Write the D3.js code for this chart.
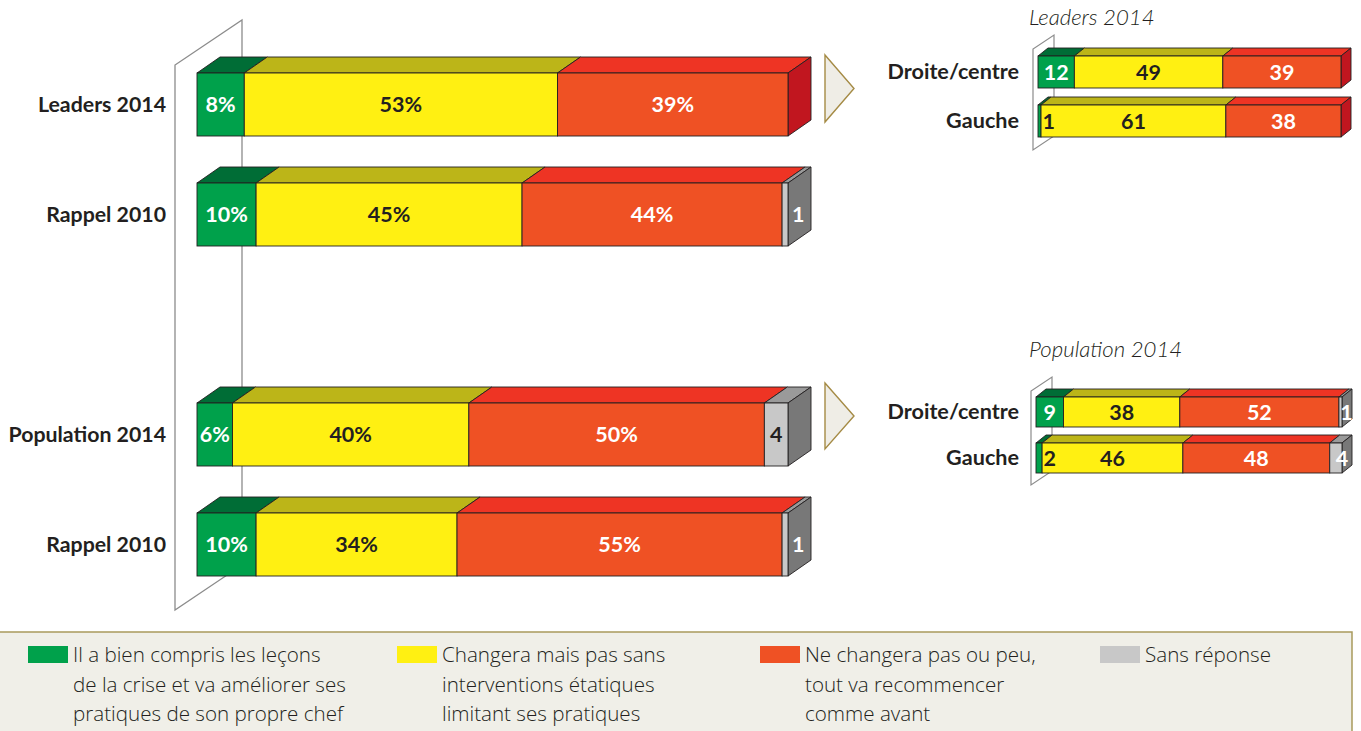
<!DOCTYPE html>
<html>
<head>
<meta charset="utf-8">
<script src="https://cdn.jsdelivr.net/npm/d3@7/dist/d3.min.js"></script>
<style>
  html, body { margin: 0; padding: 0; background: #fff; }
  svg { display: block; font-family: Lato, "Open Sans", sans-serif; }
</style>
</head>
<body>
<svg id="chart" width="1361" height="731"></svg>
<script>
// ---- Main comparison: leaders vs population, 2014 with 2010 reminder ----
const mainRows = ["Leaders 2014", "Rappel 2010", "Population 2014", "Rappel 2010"];
const mainSlots = [0, 1, 3, 4];            // slot 2 is the empty gap between the two groups
const mainCompris = [8, 10, 6, 10];
const mainChangera = [53, 45, 40, 34];
const mainNeChangera = [39, 44, 50, 55];
const mainSansReponse = [0, 1, 4, 1];

// ---- Detail by political leaning ----
const subRows = ["Droite/centre", "Gauche"];
const leadersCompris = [12, 1];
const leadersChangera = [49, 61];
const leadersNeChangera = [39, 38];
const leadersSansReponse = [0, 0];
const popCompris = [9, 2];
const popChangera = [38, 46];
const popNeChangera = [52, 48];
const popSansReponse = [1, 4];
const subTitles = ["Leaders 2014", "Population 2014"];

// ---- Legend ----
const legendLines = [
  ["Il a bien compris les leçons", "de la crise et va améliorer ses", "pratiques de son propre chef"],
  ["Changera mais pas sans", "interventions étatiques", "limitant ses pratiques"],
  ["Ne changera pas ou peu,", "tout va recommencer", "comme avant"],
  ["Sans réponse"]
];

const frontColors = ["#00a14b", "#fff012", "#ef5124", "#c8c8c8"];
const topColors   = ["#006d36", "#bcb518", "#ee3424", "#9a9a9a"];
const sideColors  = ["#005c2c", "#9f9912", "#c1161f", "#787878"];
const labelColors = ["#ffffff", "#231f20", "#ffffff", "#231f20"];
const edge = "#231f20";
const ink = "#231f20";

const svg = d3.select("#chart");

function rowsOf(a, b, c, d) {
  return a.map((_, i) => [a[i], b[i], c[i], d[i]]);
}

// Draws one extruded stacked bar
function drawBar(g, values, x, y0, h, dx, dy, opt) {
  let acc = 0;
  const segs = values.map((v, k) => {
    const s = { k, v, x0: x(acc), x1: x(acc + v) };
    acc += v;
    return s;
  }).filter(s => s.v > 0);
  const last = segs[segs.length - 1];
  const yTop = y0, yBot = y0 + h;

  // top faces
  g.selectAll(null).data(segs).join("path")
    .attr("d", s => `M${s.x0},${yTop}L${s.x1},${yTop}L${s.x1 + dx},${yTop - dy}L${s.x0 + dx},${yTop - dy}Z`)
    .attr("fill", s => topColors[s.k])
    .attr("stroke", edge).attr("stroke-width", 0.9).attr("stroke-linejoin", "round");

  // end face
  g.append("path")
    .attr("d", `M${last.x1},${yTop}L${last.x1 + dx},${yTop - dy}L${last.x1 + dx},${yBot - dy}L${last.x1},${yBot}Z`)
    .attr("fill", sideColors[last.k])
    .attr("stroke", edge).attr("stroke-width", 0.9).attr("stroke-linejoin", "round");

  // front faces
  g.selectAll(null).data(segs).join("rect")
    .attr("x", s => s.x0).attr("y", yTop)
    .attr("width", s => s.x1 - s.x0).attr("height", h)
    .attr("fill", s => frontColors[s.k])
    .attr("stroke", edge).attr("stroke-width", 0.9);

  // value labels
  segs.forEach(s => {
    const w = s.x1 - s.x0;
    let lx = (s.x0 + s.x1) / 2, anchor = "middle", col = labelColors[s.k];
    if (s === last && s.k === 3 && w < 8) { lx = s.x1 + dx * 0.45; col = "#ffffff"; }
    else if (s === last && s.k === 3 && w < 14) { lx = s.x1; col = "#ffffff"; }
    else if (s.k === 0 && w < 10) { lx = s.x1 + 1.5; anchor = "start"; col = ink; }
    g.append("text")
      .attr("x", lx).attr("y", yTop + h / 2)
      .attr("dy", "0.36em")
      .attr("text-anchor", anchor)
      .attr("font-size", opt.fontSize).attr("font-weight", 700)
      .attr("fill", col)
      .text(s.v + (s.k < 3 ? opt.suffix : ""));
  });
}

// ---------- main chart ----------
const mainX = d3.scaleLinear().domain([0, 100]).range([197, 788]);
const mainY = d3.scaleBand().domain(d3.range(5)).range([73, 576]).paddingInner(0.4273).paddingOuter(0);
const mainDX = 23, mainDY = 16;

// back wall
svg.append("path")
  .attr("d", "M175,610L175,65L242,20L242,565Z")
  .attr("fill", "none").attr("stroke", "#8c8c8c").attr("stroke-width", 1.3);

const mainData = rowsOf(mainCompris, mainChangera, mainNeChangera, mainSansReponse);
mainData.forEach((vals, i) => {
  const g = svg.append("g");
  const y0 = mainY(mainSlots[i]);
  drawBar(g, vals, mainX, y0, mainY.bandwidth(), mainDX, mainDY, { fontSize: 21.5, suffix: "%" });
  svg.append("text")
    .attr("x", 166).attr("y", y0 + mainY.bandwidth() / 2).attr("dy", "0.34em")
    .attr("text-anchor", "end").attr("font-size", 21.3).attr("font-weight", 700)
    .attr("fill", ink).text(mainRows[i]);
});

// arrows pointing to the details
[[55, 122], [383, 449]].forEach(([t, b]) => {
  svg.append("path")
    .attr("d", `M825,${t}L854,${(t + b) / 2}L825,${b}Z`)
    .attr("fill", "#efede6").attr("stroke", "#a58b45").attr("stroke-width", 1.4);
});

// ---------- detail charts ----------
const details = [
  { title: subTitles[0], titleY: 25,
    data: rowsOf(leadersCompris, leadersChangera, leadersNeChangera, leadersSansReponse),
    x: d3.scaleLinear().domain([0, 100]).range([1038, 1341]),
    y: d3.scaleBand().domain(subRows).range([56, 137]).paddingInner(0.347).paddingOuter(0),
    wall: "M1033,150L1033,49L1054,35L1054,136Z" },
  { title: subTitles[1], titleY: 357,
    data: rowsOf(popCompris, popChangera, popNeChangera, popSansReponse),
    x: d3.scaleLinear().domain([0, 100]).range([1036, 1342]),
    y: d3.scaleBand().domain(subRows).range([397, 473]).paddingInner(0.348).paddingOuter(0),
    wall: "M1031,485L1031,391L1052,377L1052,471Z" }
];

details.forEach(d => {
  svg.append("text")
    .attr("x", 1029).attr("y", d.titleY)
    .attr("font-size", 22.2).attr("font-style", "italic").attr("font-weight", 300)
    .attr("fill", ink).text(d.title);
  svg.append("path").attr("d", d.wall)
    .attr("fill", "none").attr("stroke", "#8c8c8c").attr("stroke-width", 1.2);
  d.data.forEach((vals, i) => {
    const g = svg.append("g");
    const y0 = d.y(subRows[i]);
    drawBar(g, vals, d.x, y0, d.y.bandwidth(), 10, 8, { fontSize: 21.5, suffix: "" });
    svg.append("text")
      .attr("x", 1019).attr("y", y0 + d.y.bandwidth() / 2).attr("dy", "0.34em")
      .attr("text-anchor", "end").attr("font-size", 21.6).attr("font-weight", 700)
      .attr("fill", ink).text(subRows[i]);
  });
});

// ---------- legend ----------
svg.append("rect")
  .attr("x", -2).attr("y", 632).attr("width", 1354).attr("height", 110)
  .attr("fill", "#f0efe8").attr("stroke", "#a99a5c").attr("stroke-width", 1.5);

const legendX = [28, 397, 760, 1100];
legendLines.forEach((lines, k) => {
  svg.append("rect")
    .attr("x", legendX[k]).attr("y", 646).attr("width", 40).attr("height", 17)
    .attr("fill", frontColors[k]);
  const t = svg.append("text")
    .attr("x", legendX[k] + 45).attr("y", 662)
    .attr("font-family", "'Open Sans', Lato, sans-serif")
    .attr("font-size", 20.6).attr("font-weight", 300).attr("fill", ink);
  lines.forEach((ln, j) => {
    t.append("tspan").attr("x", legendX[k] + 45).attr("y", 662 + j * 29.5).text(ln);
  });
});
</script>
</body>
</html>
